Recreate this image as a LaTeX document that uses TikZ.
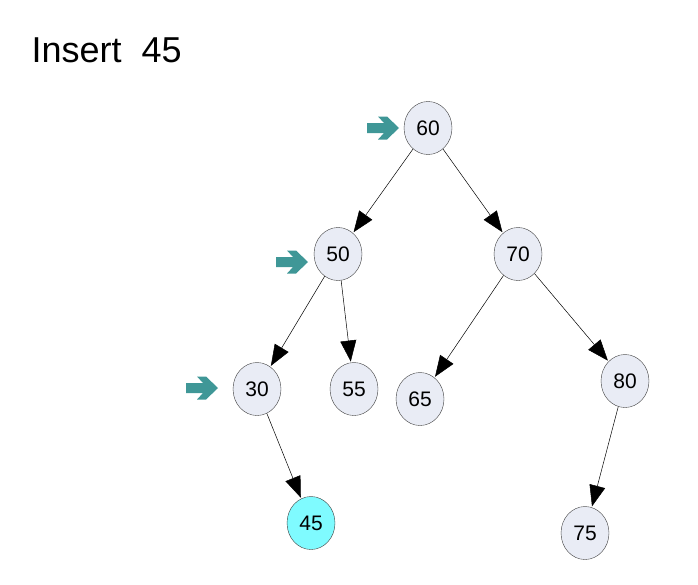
\documentclass[tikz,border=0pt]{standalone}
\usepackage{fontspec}
\setmainfont{Liberation Sans}
\usetikzlibrary{arrows.meta,shapes.geometric}
\definecolor{nodefill}{HTML}{E9ECF5}
\definecolor{hlfill}{HTML}{7FFBFF}
\definecolor{teal2}{HTML}{3F9797}
\begin{document}
\begin{tikzpicture}[x=1pt,y=-1pt,
  tn/.style={ellipse,draw=black!75,fill=nodefill,minimum width=48pt,minimum height=53pt,inner sep=0pt,font=\fontsize{21}{24}\selectfont},
  hl/.style={tn,fill=hlfill},
  ed/.style={draw=black,line width=0.5pt,-{Triangle[length=21pt,width=16pt]},shorten >=1pt},
  ptr/.pic={\fill[teal2] (-16,-5) -- (1,-5) -- (-5,-11.5) -- (4,-11.5) -- (16,0) -- (4,11.5) -- (-5,11.5) -- (1,5) -- (-16,5) -- cycle;}
]
\useasboundingbox (0,0) rectangle (698,584);
\node[anchor=west,font=\fontsize{36}{40}\selectfont] (title) at (28,50) {Insert\ \ 45};
\node[tn] (n60) at (428,128) {60};
\node[tn] (n50) at (338,254) {50};
\node[tn] (n70) at (518,254) {70};
\node[tn] (n30) at (257,389) {30};
\node[tn] (n55) at (354,389) {55};
\node[tn] (n65) at (420,399) {65};
\node[tn] (n80) at (625,381) {80};
\node[hl] (n45) at (311,523) {45};
\node[tn] (n75) at (585,533) {75};
\draw[ed] (n60) -- (n50);
\draw[ed] (n60) -- (n70);
\draw[ed] (n50) -- (n30);
\draw[ed] (n50) -- (n55);
\draw[ed] (n30) -- (n45);
\draw[ed] (n70) -- (n65);
\draw[ed] (n70) -- (n80);
\draw[ed] (n80) -- (n75);
\pic at (383,128) {ptr};
\pic at (292,262) {ptr};
\pic at (202,388) {ptr};
\end{tikzpicture}
\end{document}
